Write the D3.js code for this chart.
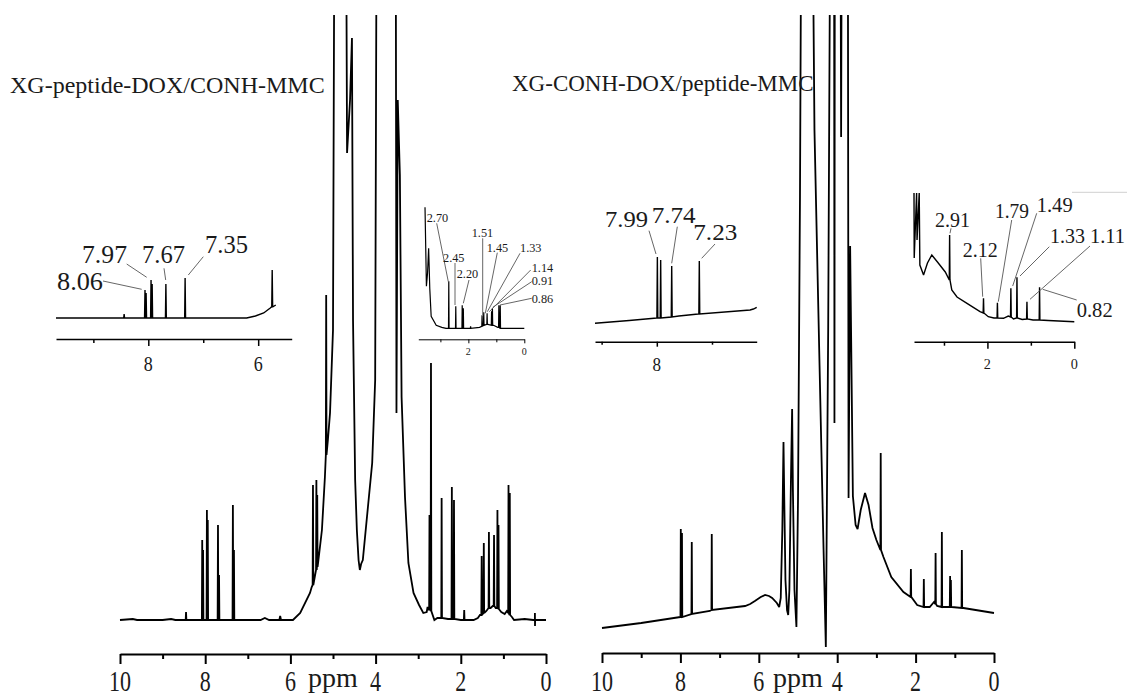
<!DOCTYPE html>
<html><head><meta charset="utf-8">
<script src="https://cdn.jsdelivr.net/npm/d3@7"></script>
<style>
html,body{margin:0;padding:0;background:#fff;}
svg{display:block;}
text{font-family:"Liberation Serif","Times New Roman",serif;fill:#1a1a1a;}
</style></head><body>
<svg id="c" width="1127" height="699"></svg>
<script>
// ================= DATA (ppm, intensity a.u.) =================
// Titles
const titleLeft = "XG-peptide-DOX/CONH-MMC";
const titleRight = "XG-CONH-DOX/peptide-MMC";
const axisLabel = "ppm";
const mainMajorTicks = [10, 8, 6, 4, 2, 0];
const mainMinorTicks = [9, 7, 5, 3, 1];

// Left main spectrum: envelope [ppm, intensity] and sharp peaks [ppm, top, base]
const leftEnv = [[10.0,0],[9.7,1],[9.6,0],[9.0,0],[8.8,1],[8.7,0],[6.7,0],[6.6,2],[6.5,0],[6.26,0],[6.24,4],[6.22,0],
  [5.94,0],[5.77,7],[5.54,27],[5.50,33],[5.42,45],[5.35,57],[5.26,90],[5.19,143],[5.12,180],[5.07,207],[5.00,290],
  [4.96,800],[4.70,800],[4.67,467],[4.60,520],[4.555,582],[4.53,300],[4.48,140],[4.44,90],[4.40,60],[4.37,50],[4.34,56],
  [4.30,60],[4.18,113],[4.08,157],[4.01,240],[3.97,800],[3.53,800],[3.51,207],[3.48,520],[3.43,445],[3.39,223],
  [3.31,123],[3.23,57],[3.11,27],[2.98,15],[2.88,7],[2.80,8],[2.78,13],[2.76,10],[2.62,0],[2.55,2],[2.30,1],[2.0,0],
  [1.7,0],[1.6,2],[1.55,5],[1.40,9],[1.30,12],[1.25,14],[1.18,12],[1.05,8],[0.97,6],[0.92,9],[0.80,3],[0.75,0],
  [0.5,1],[0.3,0],[0.262,0],[0.26,7],[0.258,-6],[0.255,0],[0.0,0]];
const leftPeaks = [[8.45,8,0],[8.07,80,0],[8.05,70,0],[7.96,110,0],[7.94,100,0],[7.70,95,0],[7.675,45,0],
  [7.35,115,0],[7.325,70,0],[5.47,135,35],[5.39,140,50],[5.37,125,53],[5.16,325,165],[2.735,105,11],[2.70,257,9],
  [2.45,122,2],[2.21,133,1],[2.16,120,1],[1.92,10,0],[1.51,64,5],[1.46,77,7],[1.34,88,12],[1.22,85,14],
  [1.14,110,12],[1.115,95,11],[0.88,135,7],[0.85,127,5]];

// Right main spectrum
const rightEnv = [[10.0,22],[9.0,27],[8.0,33],[7.25,39],[6.35,44],[6.22,46],[6.10,49],[5.95,53],[5.84,55],[5.74,54],
  [5.66,52],[5.54,47],[5.48,43],[5.44,52],[5.40,120],[5.37,208],[5.35,150],[5.32,70],[5.28,40],[5.25,35],[5.22,60],
  [5.18,170],[5.15,241],[5.13,160],[5.09,60],[5.04,23],[5.00,150],[4.95,450],[4.91,800],[4.64,800],[4.58,520],
  [4.45,284],[4.35,104],[4.29,3],[4.23,320],[4.17,800],[4.08,800],[4.07,227],[4.06,800],[3.92,800],[3.90,513],
  [3.88,800],[3.73,800],[3.71,152],[3.67,404],[3.60,154],[3.53,125],[3.48,121],[3.40,140],[3.29,157],[3.20,145],
  [3.10,122],[3.00,110],[2.82,93],[2.62,73],[2.31,58],[2.11,53],[1.96,45],[1.76,43],[1.64,43],[1.53,48],[1.45,44],
  [1.31,43],[1.08,43],[0.78,42],[0.0,37]];
const rightPeaks = [[7.99,121,33],[7.96,117,33],[7.71,108,36],[7.20,116,40],[2.89,197,100],[2.12,81,53],
  [1.79,71,43],[1.49,97,46],[1.33,118,43],[1.12,74,43],[1.10,70,43],[0.82,100,42]];

// Insets
const insL1Env = [[9.68,0],[9.0,0],[8.6,0],[7.8,0],[7.0,0],[6.5,0],[6.21,0],[6.05,2],[5.9,5],[5.78,10],[5.76,11],[5.68,13]];
const insL1Peaks = [[8.44,4,0],[8.06,28,0],[8.04,25,0],[7.95,38,0],[7.93,34,0],[7.68,34,0],[7.33,40,0],[5.745,48,11]];
const insL1Labels = ["8.06","7.97","7.67","7.35"];
const insL1Ticks = {major:[8,6], minor:[9,7]};

const insL2Env = [[3.55,121],[3.50,42],[3.46,55],[3.42,80],[3.38,40],[3.33,12],[3.15,3],[2.95,1],[2.80,0],[2.0,0],
  [1.6,1],[1.5,3],[1.3,4],[1.1,3],[0.95,1],[0.8,0],[0.0,0]];
const insL2Peaks = [[2.70,47,0],[2.45,22,0],[2.22,23,0],[2.18,20,0],[1.92,2,0],[1.51,13,2],[1.45,16,3],[1.33,15,4],
  [1.17,17,3],[1.14,20,3],[0.91,23,1],[0.86,23,0]];
const insL2Labels = ["2.70","2.45","2.20","1.51","1.45","1.33","1.14","0.91","0.86"];
const insL2Ticks = {major:[2,0], minor:[3,1]};

const insR1Env = [[9.12,6.7],[8.5,9.5],[8.0,12],[7.6,14],[7.25,16],[6.31,20],[6.25,21],[6.19,22.7]];
const insR1Peaks = [[7.99,73,12],[7.93,70,12],[7.73,64,13],[7.23,69,16]];
const insR1Labels = ["7.99","7.74","7.23"];
const insR1Ticks = {major:[8], minor:[9,7]};

const insR2Env = [[3.69,132],[3.685,67],[3.63,132],[3.62,85],[3.57,132],[3.555,60],[3.47,50],[3.38,62],[3.28,70],
  [3.15,63],[2.97,53],[2.82,35],[2.70,28],[2.47,21.7],[2.17,13.3],[1.98,8.3],[1.85,7],[1.63,6.7],[1.52,9],[1.40,6],
  [1.2,5.5],[0.95,5],[0.6,4.5],[0.0,3.3]];
const insR2Peaks = [[2.87,90,45],[2.09,26.7,12],[1.77,22.3,7],[1.46,36.7,8],[1.32,47.7,7],[1.09,23.3,6],[0.80,37.7,5]];
const insR2Labels = ["2.91","2.12","1.79","1.49","1.33","1.11","0.82"];
const insR2Ticks = {major:[2,0], minor:[3,1]};

// ================= LAYOUT =================
const svg = d3.select("#c");

function buildTrace(env, peaks, w){
  const pts = env.map(d => ({p:d[0], v:d[1]}));
  peaks.forEach(d => {
    pts.push({p:d[0]+w, v:d[2]});
    pts.push({p:d[0], v:d[1]});
    pts.push({p:d[0]-w, v:d[2]});
  });
  pts.sort((a,b) => b.p - a.p);
  return pts;
}
function drawSpectrum(g, pts, x, y, sw){
  g.append("path").datum(pts)
    .attr("d", d3.line().x(d=>x(d.p)).y(d=>y(d.v)))
    .attr("fill","none").attr("stroke","#000").attr("stroke-width",sw)
    .attr("stroke-linejoin","miter").attr("stroke-miterlimit",2);
}
function ppmAxis(g, x, y0, ticks, majLen, minLen, sw){
  const ga = g.append("g").attr("transform",`translate(0,${y0})`);
  ga.call(d3.axisBottom(x).tickValues(ticks.major).tickSize(majLen).tickSizeOuter(0).tickFormat(""));
  const gb = g.append("g").attr("transform",`translate(0,${y0})`);
  gb.call(d3.axisBottom(x).tickValues(ticks.minor).tickSize(minLen).tickSizeOuter(0).tickFormat(""));
  gb.select(".domain").remove();
  [ga,gb].forEach(s => s.selectAll("path,line").attr("stroke","#000").attr("stroke-width",sw));
}
function tickLabels(g, x, vals, yb, fs, sx){
  vals.forEach(v => {
    g.append("text").attr("transform",`translate(${x(v)},${yb}) scale(${sx},1)`)
      .attr("text-anchor","middle").attr("font-size",fs).text(v);
  });
}
function labels(g, texts, lay, fs, len){
  texts.forEach((t,i) => {
    const L = lay[i];
    g.append("line").attr("x1",L[3]).attr("y1",L[4]).attr("x2",L[5]).attr("y2",L[6])
      .attr("stroke","#555").attr("stroke-width",0.9);
    g.append("text").attr("x",L[0]).attr("y",L[1]).attr("font-size",fs)
      .attr("textLength",L[2]||len).attr("lengthAdjust","spacingAndGlyphs").text(t);
  });
}

// clip for main spectra
svg.append("defs").append("clipPath").attr("id","topclip")
  .append("rect").attr("x",0).attr("y",15).attr("width",1127).attr("height",684);

// ---- Left main ----
const xL = d3.scaleLinear().domain([10,0]).range([120,546]);
const yL = d3.scaleLinear().domain([0,600]).range([620,20]);
const gL = svg.append("g");
drawSpectrum(gL.append("g").attr("clip-path","url(#topclip)"), buildTrace(leftEnv,leftPeaks,0.008), xL, yL, 1.8);
ppmAxis(gL, xL, 654, {major:mainMajorTicks, minor:mainMinorTicks}, 10, 5, 2);
tickLabels(gL, xL, mainMajorTicks, 691, 29, 0.76);
gL.append("text").attr("x", xL(5)).attr("y",687).attr("text-anchor","middle").attr("font-size",28).text(axisLabel);
svg.append("text").attr("x",10).attr("y",93).attr("font-size",24).text(titleLeft);

// ---- Right main ----
const xR = d3.scaleLinear().domain([10,0]).range([602,994]);
const yR = d3.scaleLinear().domain([0,600]).range([650,50]);
const gR = svg.append("g");
drawSpectrum(gR.append("g").attr("clip-path","url(#topclip)"), buildTrace(rightEnv,rightPeaks,0.008), xR, yR, 1.8);
ppmAxis(gR, xR, 653, {major:mainMajorTicks, minor:mainMinorTicks}, 10, 5, 2);
tickLabels(gR, xR, mainMajorTicks, 691, 29, 0.76);
gR.append("text").attr("x", xR(5)).attr("y",687).attr("text-anchor","middle").attr("font-size",28).text(axisLabel);
svg.append("text").attr("x",512).attr("y",91).attr("font-size",23).text(titleRight);

// ---- Inset L1 (aromatic, left) ----
const xI1 = d3.scaleLinear().domain([9.68,5.39]).range([56,291.7]);
const yI1 = d3.scaleLinear().domain([0,50]).range([318,268]);
const gI1 = svg.append("g");
drawSpectrum(gI1, buildTrace(insL1Env,insL1Peaks,0.008), xI1, yI1, 1.4);
ppmAxis(gI1, xI1, 339, insL1Ticks, 7, 4, 1.5);
tickLabels(gI1, xI1, insL1Ticks.major, 371, 20, 0.9);
labels(gI1, insL1Labels, [
  [57,290,46, 103,281,141.7,289.3],
  [82,263,45, 126.7,264,146.7,277.3],
  [142,263,43, 164,268.3,165.7,280],
  [205,253,43, 203.3,256.7,188.3,275]], 26, 45);

// ---- Inset L2 (aliphatic, left) ----
const xI2 = d3.scaleLinear().domain([3.79,0]).range([418.3,524.3]);
const yI2 = d3.scaleLinear().domain([0,50]).range([328.3,278.3]);
const gI2 = svg.append("g");
drawSpectrum(gI2, buildTrace(insL2Env,insL2Peaks,0.01), xI2, yI2, 1.2);
ppmAxis(gI2, xI2, 339.3, insL2Ticks, 4, 3, 1);
tickLabels(gI2, xI2, insL2Ticks.major, 355, 10, 1);
labels(gI2, insL2Labels, [
  [426.7,221.7,21.5, 436.7,223.3,448.3,281.7],
  [443,261.7,21.5, 455,263,455,305],
  [456.7,278.3,21.5, 469,280,463.3,303.3],
  [471.7,236.7,21.5, 482.7,238.3,482.7,315],
  [486.7,251.7,21.5, 497.3,252.7,485.3,313.3],
  [520,252.3,21.5, 520,253.3,487.3,311.7],
  [531.7,271.7,21.5, 530.7,270,489.3,311.7],
  [531.7,285,21.5, 531.7,281.7,492.7,307.3],
  [531.7,303.3,21.5, 531.7,298.3,500,305]], 12.5, 21.5);

// ---- Inset R1 (aromatic, right) ----
const xI3 = d3.scaleLinear().domain([9.12,6.19]).range([595,756.7]);
const yI3 = d3.scaleLinear().domain([0,80]).range([330,250]);
const gI3 = svg.append("g");
drawSpectrum(gI3, buildTrace(insR1Env,insR1Peaks,0.008), xI3, yI3, 1.4);
ppmAxis(gI3, xI3, 341.7, insR1Ticks, 5, 3, 1.5);
tickLabels(gI3, xI3, insR1Ticks.major, 371, 19, 0.9);
labels(gI3, insR1Labels, [
  [605,226.7,43, 649,230.7,656,254],
  [651.7,223,44, 677.3,226.7,671.7,263.3],
  [693.3,240,44, 715,244,701.7,258.3]], 23, 43);

// ---- Inset R2 (aliphatic, right) ----
const xI4 = d3.scaleLinear().domain([3.69,0]).range([914,1074.3]);
const yI4 = d3.scaleLinear().domain([0,140]).range([325,185]);
const gI4 = svg.append("g");
drawSpectrum(gI4, buildTrace(insR2Env,insR2Peaks,0.008), xI4, yI4, 1.4);
ppmAxis(gI4, xI4, 341.7, insR2Ticks, 7, 4, 1.5);
tickLabels(gI4, xI4, insR2Ticks.major, 369, 15, 0.95);
labels(gI4, insR2Labels, [
  [935,226.7,35, 951,228.3,950,233.3],
  [962.7,256.7,35, 980.7,258.3,982.7,296.7],
  [995,218.3,34, 1011.7,220,998.3,301.7],
  [1036.7,211.7,36, 1036.7,213.3,1012.7,286],
  [1050,243.3,35, 1049.3,246.7,1020,276],
  [1090,243.3,35, 1090,246,1030,299.3],
  [1076.7,316.7,36, 1076.7,300,1042.7,289.3]], 20, 35);
svg.append("line").attr("x1",1072).attr("y1",192.3).attr("x2",1127).attr("y2",192.3)
  .attr("stroke","#d0d0d0").attr("stroke-width",1);
</script></body></html>
